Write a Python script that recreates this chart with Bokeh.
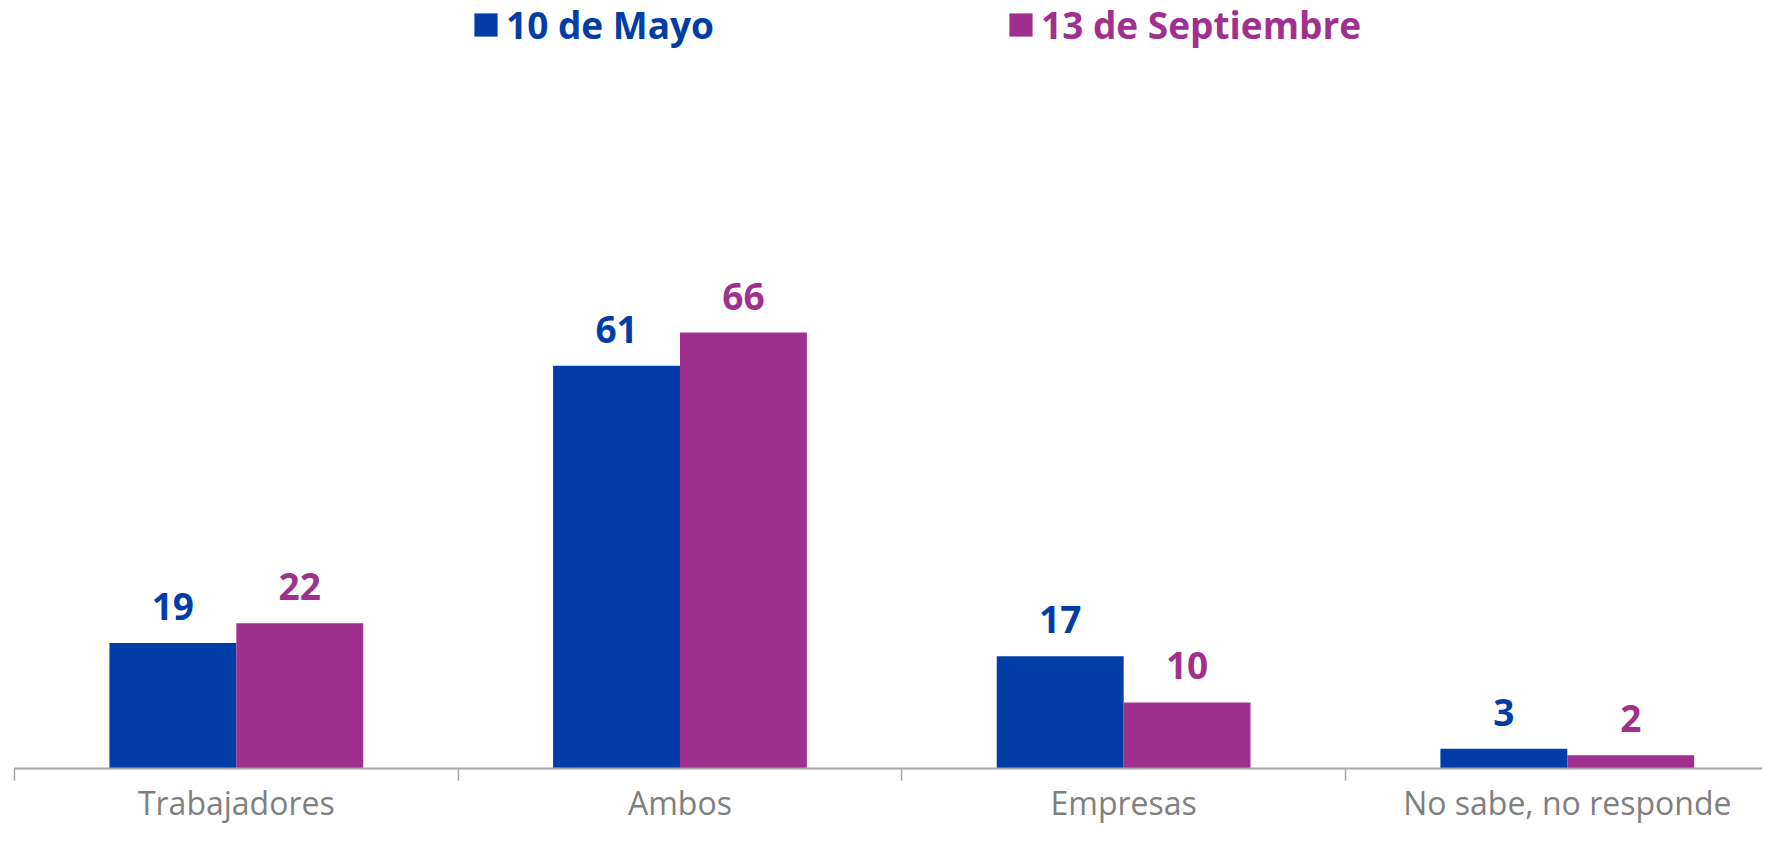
from bokeh.plotting import figure
from bokeh.models import (ColumnDataSource, Range1d, LinearAxis, FixedTicker, LabelSet, Legend, LegendItem)
from bokeh.core.properties import value
from bokeh.transform import dodge
from bokeh.embed import file_html
from bokeh.resources import INLINE

categories = ["Trabajadores", "Ambos", "Empresas", "No sabe, no responde"]
mayo = [19, 61, 17, 3]
septiembre = [22, 66, 10, 2]
series_names = ["10 de Mayo", "13 de Septiembre"]

BLUE = "#003DA6"
PURPLE = "#A0308E"
GRAY_AX = "#A6A6A6"
GRAY_TXT = "#7F7F7F"

n = len(categories)
centers = [i + 0.5 for i in range(n)]
bounds = list(range(n + 1))
src = ColumnDataSource(dict(pos=centers, mayo=mayo, sep=septiembre,
                            mayo_lbl=[str(v) for v in mayo], sep_lbl=[str(v) for v in septiembre]))

FRAME_H = 764
p = figure(width=1762, height=826, output_backend="svg", toolbar_location=None,
           x_range=Range1d(0, n - 0.06), y_range=Range1d(0, FRAME_H / 6.57),
           x_axis_location=None, y_axis_location=None,
           min_border_left=14, min_border_right=0, min_border_top=0, min_border_bottom=0)
p.outline_line_color = None
p.xgrid.visible = False
p.ygrid.visible = False

xaxis = LinearAxis(ticker=FixedTicker(ticks=centers, minor_ticks=bounds),
                   major_label_overrides={c: name for c, name in zip(centers, categories)},
                   axis_line_color=GRAY_AX, axis_line_width=2,
                   major_tick_line_color=None, major_tick_in=0, major_tick_out=8,
                   minor_tick_line_color=GRAY_AX, minor_tick_line_width=1.5,
                   minor_tick_in=0, minor_tick_out=12,
                   major_label_text_font="Open Sans", major_label_text_font_size="32px",
                   major_label_text_color=GRAY_TXT, major_label_standoff=0)
p.add_layout(xaxis, "below")

W = 0.286
r1 = p.vbar(x=dodge("pos", -W / 2), top="mayo", width=W, source=src,
            fill_color=BLUE, line_color=None)
r2 = p.vbar(x=dodge("pos", W / 2), top="sep", width=W, source=src,
            fill_color=PURPLE, line_color=None)

for fld, lbl, off, col in [("mayo", "mayo_lbl", -W / 2, BLUE), ("sep", "sep_lbl", W / 2, PURPLE)]:
    ls = LabelSet(x=dodge("pos", off), y=fld, text=lbl, source=src,
                  text_align="center", text_baseline="alphabetic", y_offset=23,
                  text_font=value("Open Sans"), text_font_style="bold", text_font_size="37px",
                  text_color=col)
    p.add_layout(ls)

LEG_Y = FRAME_H - 46
for r, name, col, x in [(r1, series_names[0], BLUE, 457), (r2, series_names[1], PURPLE, 992)]:
    lg = Legend(items=[LegendItem(label=name, renderers=[r])], location=(x, LEG_Y),
                orientation="horizontal", border_line_color=None, background_fill_alpha=0,
                padding=0, margin=0, glyph_width=29, glyph_height=29, label_standoff=6,
                label_text_font="Open Sans", label_text_font_style="bold",
                label_text_font_size="37px", label_text_color=col, label_height=36)
    p.add_layout(lg)

open("out.html", "w").write(file_html(p, INLINE))
